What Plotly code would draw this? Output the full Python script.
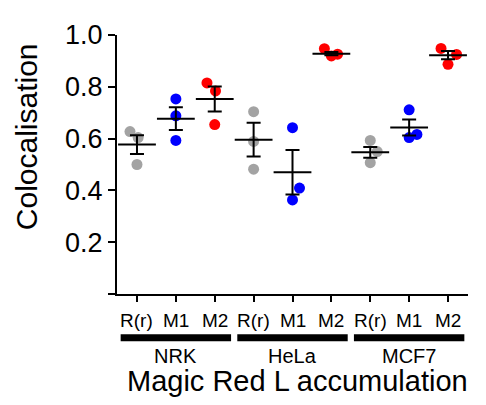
"""
Colocalisation scatter with mean +/- SEM, grouped by cell line
"""

import plotly.graph_objects as go

FONT = "Liberation Sans, Arial, Helvetica, sans-serif"

groups = ["NRK", "HeLa", "MCF7"]
conditions = ["R(r)", "M1", "M2"]
condition_colors = {"R(r)": "#a3a3a3", "M1": "#0000ff", "M2": "#ff0000"}

# individual replicate values per group/condition
points = {
    ("NRK", "R(r)"): [0.627, 0.604, 0.500],
    ("NRK", "M1"): [0.753, 0.688, 0.593],
    ("NRK", "M2"): [0.815, 0.784, 0.654],
    ("HeLa", "R(r)"): [0.704, 0.589, 0.482],
    ("HeLa", "M1"): [0.642, 0.409, 0.363],
    ("HeLa", "M2"): [0.947, 0.919, 0.926],
    ("MCF7", "R(r)"): [0.593, 0.550, 0.507],
    ("MCF7", "M1"): [0.711, 0.616, 0.604],
    ("MCF7", "M2"): [0.948, 0.925, 0.887],
}
# horizontal spread of overlapping dots (category units)
jitter = {
    ("NRK", "R(r)"): [-0.18, 0.03, 0.0],
    ("NRK", "M1"): [0.0, 0.0, 0.0],
    ("NRK", "M2"): [-0.2, 0.02, 0.0],
    ("HeLa", "R(r)"): [0.0, 0.0, 0.0],
    ("HeLa", "M1"): [0.0, 0.18, 0.0],
    ("HeLa", "M2"): [-0.18, 0.0, 0.16],
    ("MCF7", "R(r)"): [0.0, 0.18, 0.0],
    ("MCF7", "M1"): [0.0, 0.2, 0.0],
    ("MCF7", "M2"): [-0.18, 0.22, 0.0],
}
means = [0.577, 0.677, 0.753, 0.596, 0.470, 0.928, 0.547, 0.643, 0.922]
sems = [0.036, 0.044, 0.048, 0.065, 0.086, 0.006, 0.021, 0.031, 0.016]

y_ticks = [0.0, 0.2, 0.4, 0.6, 0.8, 1.0]
y_tick_text = ["", "0.2", "0.4", "0.6", "0.8", "1.0"]

fig = go.Figure()

positions = []
labels = []
pos = 1
for g in groups:
    for c in conditions:
        ys = points[(g, c)]
        xs = [pos + d for d in jitter[(g, c)]]
        fig.add_trace(go.Scatter(
            x=xs, y=ys, mode="markers",
            marker=dict(size=11, color=condition_colors[c]),
            hoverinfo="y", showlegend=False,
        ))
        positions.append(pos)
        labels.append(c)
        pos += 1

# mean line + SEM whiskers
fig.add_trace(go.Scatter(
    x=positions, y=means, mode="markers",
    marker=dict(symbol="line-ew", size=27, line=dict(width=2, color="black")),
    error_y=dict(type="data", array=sems, visible=True,
                 color="black", thickness=2, width=7),
    showlegend=False,
))

# page body has an 8px margin, so the figure is drawn 8px smaller
W, H = 478, 397
M_L, M_T, M_R, M_B = 109, 25, 18, 111

fig.update_layout(
    width=W, height=H,
    margin=dict(l=M_L, r=M_R, t=M_T, b=M_B),
    plot_bgcolor="white", paper_bgcolor="white",
    font=dict(family=FONT, color="black"),
    xaxis=dict(
        range=[0.486, 9.514], showgrid=False, zeroline=False,
        showline=True, linecolor="black", linewidth=2,
        ticks="outside", ticklen=6, tickwidth=2, tickcolor="black",
        tickvals=positions, showticklabels=False,
    ),
    yaxis=dict(
        range=[0, 1], showgrid=False, zeroline=False,
        showline=True, linecolor="black", linewidth=2,
        ticks="outside", ticklen=7, tickwidth=2, tickcolor="black",
        tickvals=y_ticks, ticktext=y_tick_text,
        tickfont=dict(size=27),
    ),
)

plot_w = W - M_L - M_R
plot_h = H - M_T - M_B


def py(px_below):
    # paper y for a pixel distance below the x axis
    return -px_below / plot_h


for x, lab in zip(positions, labels):
    fig.add_annotation(x=x, y=py(27), xref="x", yref="paper", text=lab,
                       showarrow=False, yanchor="middle",
                       font=dict(size=19, family=FONT))

for i, g in enumerate(groups):
    x0 = 1 + 3 * i - 0.42
    x1 = 3 + 3 * i + 0.42
    fig.add_shape(type="line", xref="x", yref="paper",
                  x0=x0, x1=x1, y0=py(44), y1=py(44),
                  line=dict(color="black", width=7))
    fig.add_annotation(x=2 + 3 * i, y=py(62), xref="x", yref="paper", text=g,
                       showarrow=False, yanchor="middle",
                       font=dict(size=20, family=FONT))

fig.add_annotation(x=5.12, y=py(88), xref="x", yref="paper",
                   text="Magic Red L accumulation", showarrow=False,
                   yanchor="middle", font=dict(size=29, family=FONT))

fig.add_annotation(x=-91 / plot_w, y=(294 - 136) / 261, xref="paper", yref="paper",
                   text="Colocalisation", textangle=-90, showarrow=False,
                   xanchor="center", yanchor="middle",
                   font=dict(size=30, family=FONT))

fig.write_html("out.html")
